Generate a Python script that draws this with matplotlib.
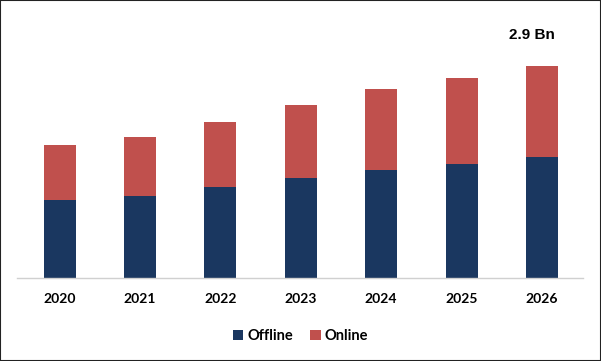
import matplotlib.pyplot as plt
import numpy as np
from matplotlib.patches import Rectangle

years = ["2020", "2021", "2022", "2023", "2024", "2025", "2026"]
offline = [1.07, 1.12, 1.24, 1.37, 1.48, 1.56, 1.66]
online = [0.75, 0.81, 0.90, 1.00, 1.11, 1.18, 1.24]
total_label = "2.9 Bn"

navy = "#1a3760"
red = "#c0504d"

plt.rcParams["font.family"] = ["Lato", "DejaVu Sans"]

W, H = 601, 361
fig = plt.figure(figsize=(W / 100, H / 100), dpi=100)
# axes spans pixel x 17..583, y 20..278 (from top)
ax = fig.add_axes([17 / W, 1 - 278 / H, (583 - 17) / W, (278 - 20) / H])

x = np.arange(len(years))
ax.bar(x, offline, width=0.40, color=navy, label="Offline")
ax.bar(x, online, width=0.40, bottom=offline, color=red, label="Online")

ax.set_xlim(-0.53, 6.51)
ax.set_ylim(0, 3.53)

for side in ["top", "right", "left"]:
    ax.spines[side].set_visible(False)
ax.spines["bottom"].set_color("#d0d0d0")
ax.spines["bottom"].set_linewidth(1)
ax.set_yticks([])
ax.set_xticks(x)
ax.set_xticklabels(years, fontsize=10, fontweight="bold")
ax.tick_params(axis="x", length=0, pad=11)

tot = offline[-1] + online[-1]
ax.annotate(total_label, xy=(x[-1], tot), xytext=(-10, 31), textcoords="offset pixels",
            ha="center", va="center", fontsize=11, fontweight="bold",
            family=["Liberation Sans", "DejaVu Sans"])

leg = fig.legend(loc="center", bbox_to_anchor=(0.5, 1 - 336 / H), ncol=2, frameon=False,
                 prop={"size": 10.5, "weight": "bold"}, handlelength=0.7, handleheight=0.7,
                 handletextpad=0.3, columnspacing=1.2)

fig.patches.append(Rectangle((0, 0), 1, 1, transform=fig.transFigure, fill=False,
                             edgecolor="#222222", linewidth=1.5))

fig.savefig("out.png", dpi=100)
